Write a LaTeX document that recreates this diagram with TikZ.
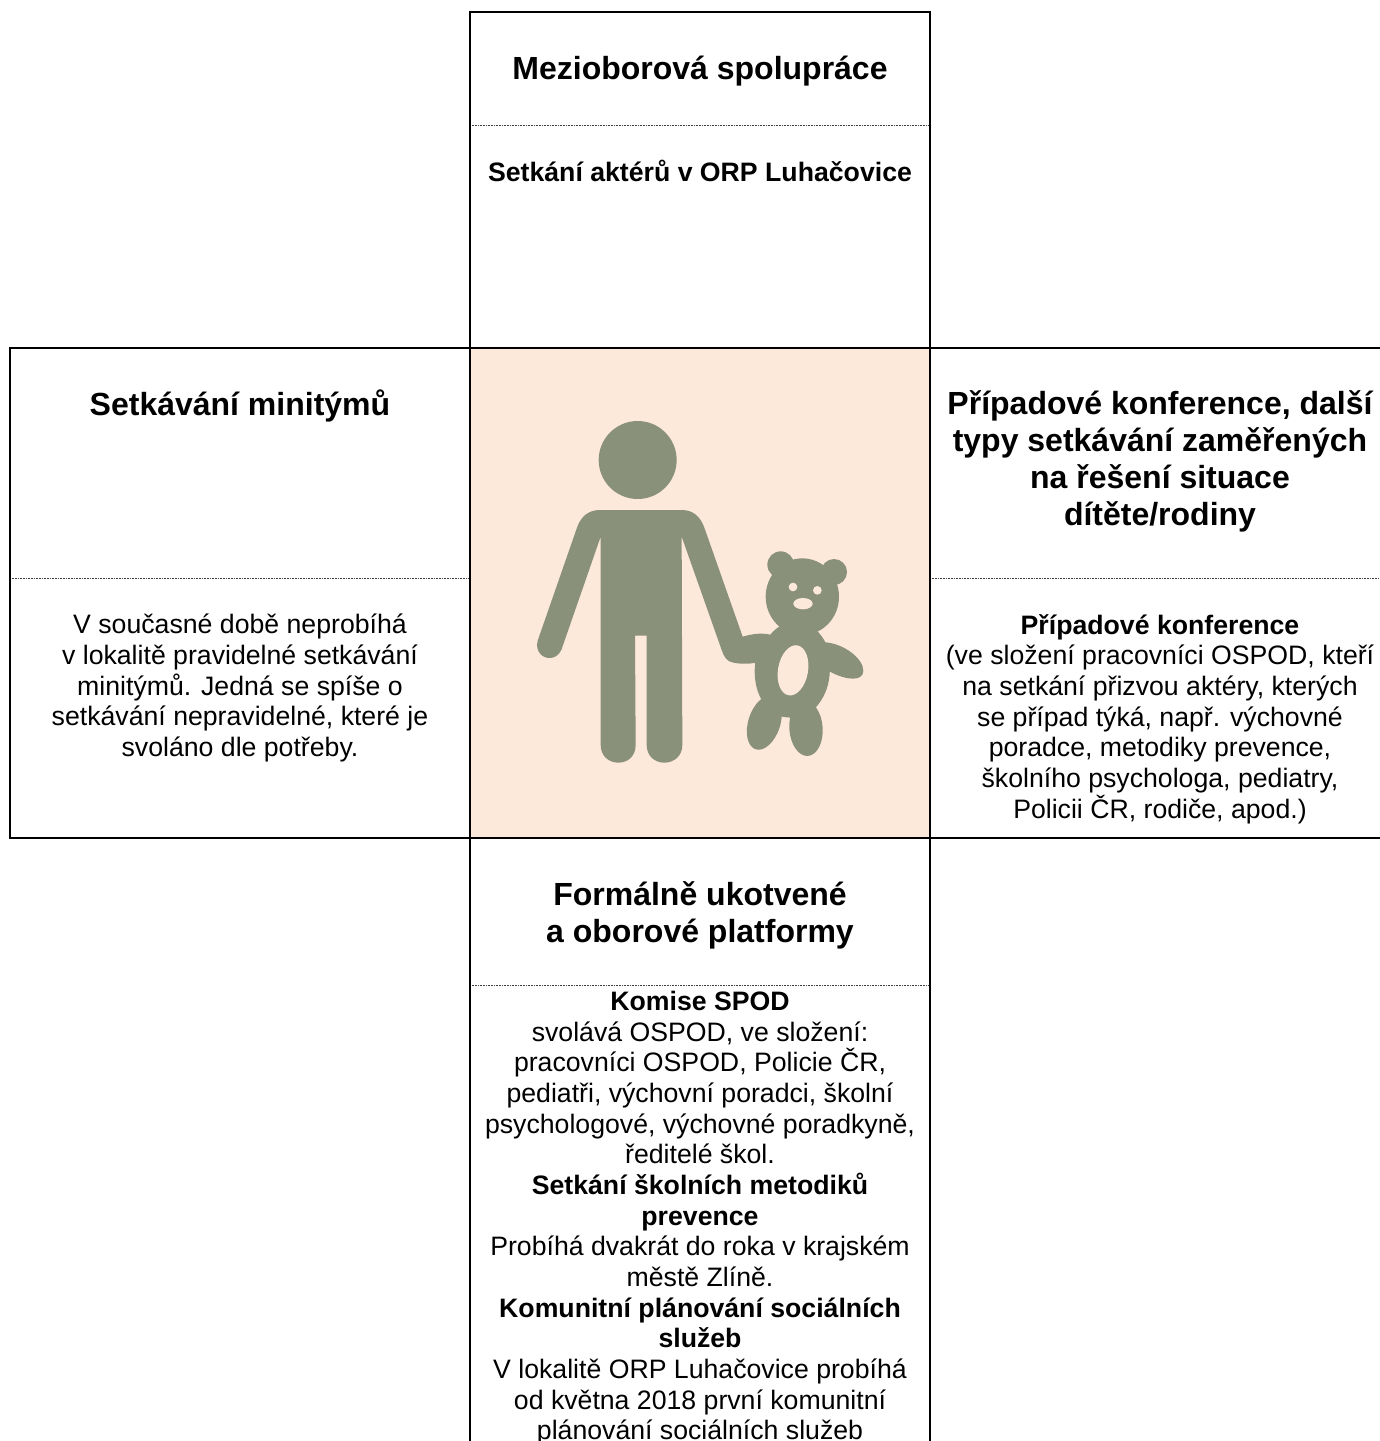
\documentclass[tikz,border=0pt]{standalone}
\usepackage{fontspec}
\setmainfont{Liberation Sans}
\tikzset{
  x=0.75pt,y=-0.75pt,
  frame/.style={line width=1.5pt,black,line cap=rect},
  sep/.style={line width=0.6pt,black!75,dash pattern=on 0.6pt off 0.6pt},
  heading/.style={anchor=north,inner sep=0pt,align=center,font=\fontsize{24}{27.75}\selectfont\bfseries},
  body/.style={anchor=north,inner sep=0pt,align=center,font=\fontsize{20}{23}\selectfont},
  sub/.style={anchor=north,inner sep=0pt,align=center,font=\fontsize{20}{23}\selectfont\bfseries},
  figure/.style={fill=figgreen,draw=none},
  hole/.style={fill=peach,draw=none},
}
\definecolor{peach}{HTML}{FDE9D9}
\definecolor{figgreen}{HTML}{8A917B}
\begin{document}
\begin{tikzpicture}
\useasboundingbox (0,0) rectangle (1380,1441);
\clip (0,0) rectangle (1380,1441);
\fill[peach] (470,348) rectangle (930,838);
% separators
\draw[sep] (470,125) -- (930,125);
\draw[sep] (10,578) -- (470,578);
\draw[sep] (930,578) -- (1380,578);
\draw[sep] (470,985) -- (930,985);
% frames
\draw[frame] (470,348) -- (470,12) -- (930,12) -- (930,348);
\draw[frame] (1385,348) -- (10,348) -- (10,838) -- (1385,838);
\draw[frame] (470,348) -- (470,1450);
\draw[frame] (930,348) -- (930,1450);
% figure
\begin{scope}[shift={(500,400)},x=0.25pt,y=-0.25pt]
  \fill[figure] (413,180) circle[radius=117];
  % person
  \fill[figure] (300,330) -- (545,330) .. controls (580,330) and (600,350) .. (612,380)
    -- (728,710) .. controls (755,702) and (785,697) .. (815,705)
    -- (800,780) .. controls (770,790) and (735,795) .. (700,788)
    .. controls (680,785) and (672,770) .. (665,750)
    -- (545,410) -- (547,1035) .. controls (547,1068) and (522,1088) .. (493,1088)
    .. controls (464,1088) and (440,1068) .. (440,1035) -- (440,707) -- (405,707) -- (407,1035)
    .. controls (407,1068) and (384,1088) .. (355,1088)
    .. controls (326,1088) and (302,1068) .. (302,1035) -- (302,410) -- (184,750)
    .. controls (175,768) and (162,774) .. (148,774)
    .. controls (125,774) and (105,752) .. (113,722)
    -- (232,380) .. controls (243,350) and (265,330) .. (300,330) -- cycle;
  % bear
  \fill[figure] (845,675) -- (945,687) .. controls (960,700) and (970,715) .. (978,730)
    .. controls (995,790) and (1000,865) .. (945,925)
    .. controls (920,950) and (890,955) .. (860,952)
    .. controls (830,950) and (800,930) .. (785,900)
    .. controls (765,865) and (760,820) .. (767,780)
    -- (810,705) .. controls (820,692) and (832,683) .. (845,675) -- cycle;
  \fill[figure] (907,590) ellipse[x radius=110,y radius=115];
  \fill[figure] (842,494) circle[radius=40];
  \fill[figure] (1002,516) circle[radius=39];
  \fill[figure,rotate around={-18:(793,968)}] (793,968) ellipse[x radius=48,y radius=84];
  \fill[figure,rotate around={4:(918,985)}] (918,985) ellipse[x radius=50,y radius=83];
  \fill[figure] (975,727) .. controls (1030,730) and (1090,775) .. (1090,812)
    .. controls (1090,845) and (1040,842) .. (990,815) -- cycle;
  \fill[hole,rotate around={-10:(879,811)}] (879,811) ellipse[x radius=45,y radius=76];
  \fill[hole] (879,561) circle[radius=13];
  \fill[hole] (952,571) circle[radius=13];
  \fill[hole] (909,611) ellipse[x radius=29,y radius=17];
\end{scope}
% texts
\node[heading] (t1) at (700,56) {Mezioborová spolupráce};
\node[sub] (t2) at (700,160) {Setkání aktérů v ORP Luhačovice};
\node[heading] (l1) at (240,390) {Setkávání minitýmů};
\node[body] (l2) at (240,614) {V současné době neprobíhá\\v lokalitě pravidelné setkávání\\minitýmů. Jedná se spíše o\\setkávání nepravidelné, které je\\svoláno dle potřeby.};
\node[heading] (r1) at (1160,390) {Případové konference, další\\typy setkávání zaměřených\\na řešení situace\\dítěte/rodiny};
\node[body] (r2) at (1160,614) {\textbf{Případové konference}\\(ve složení pracovníci OSPOD, kteří\\na setkání přizvou aktéry, kterých\\se případ týká, např. výchovné\\poradce, metodiky prevence,\\školního psychologa, pediatry,\\Policii ČR, rodiče, apod.)};
\node[heading] (b1) at (700,881) {Formálně ukotvené\\a oborové platformy};
\node[body] (b2) at (700,991) {\textbf{Komise SPOD}\\svolává OSPOD, ve složení:\\pracovníci OSPOD, Policie ČR,\\pediatři, výchovní poradci, školní\\psychologové, výchovné poradkyně,\\ředitelé škol.\\\textbf{Setkání školních metodiků}\\\textbf{prevence}\\Probíhá dvakrát do roka v krajském\\městě Zlíně.\\\textbf{Komunitní plánování sociálních}\\\textbf{služeb}\\V lokalitě ORP Luhačovice probíhá\\od května 2018 první komunitní\\plánování sociálních služeb};
\end{tikzpicture}
\end{document}
